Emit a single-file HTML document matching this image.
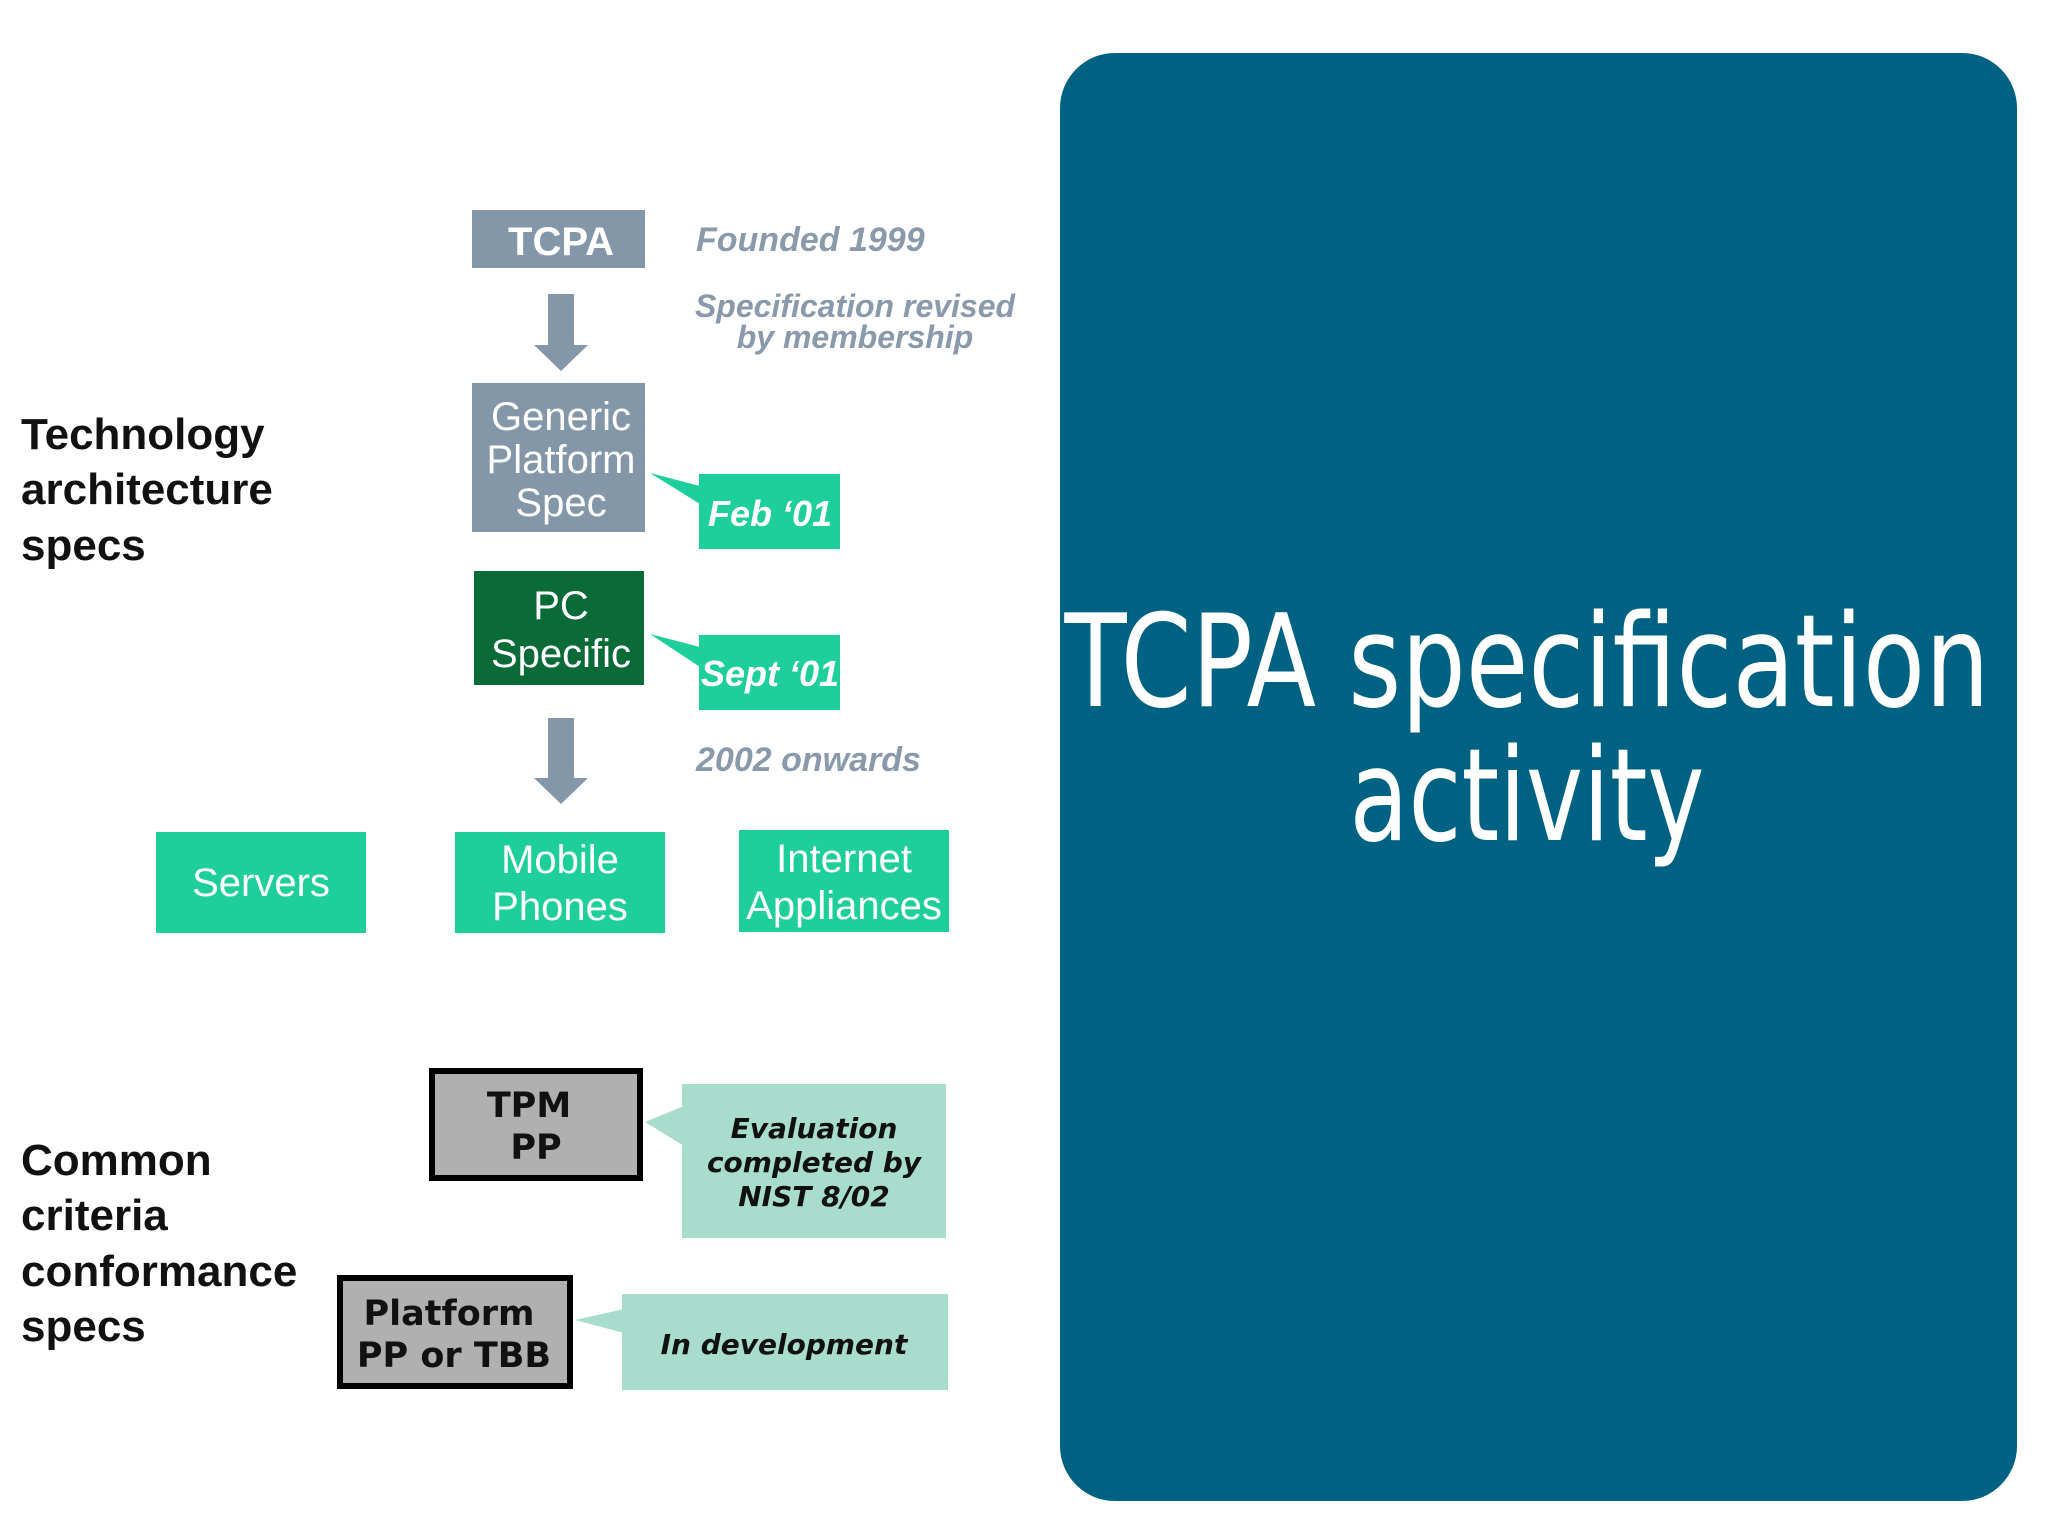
<!DOCTYPE html>
<html><head><meta charset="utf-8"><style>html,body{margin:0;padding:0;background:#fff;}svg{display:block}</style></head>
<body>
<svg width="2048" height="1536" viewBox="0 0 2048 1536" xmlns="http://www.w3.org/2000/svg" font-family="Liberation Sans, sans-serif">
<rect x="1060" y="53" width="957" height="1448" rx="55" fill="#006283"/>
<text x="1527" y="706" font-size="128" fill="#fff" text-anchor="middle" textLength="925" lengthAdjust="spacingAndGlyphs" font-family="DejaVu Sans, sans-serif">TCPA specification</text>
<text x="1527" y="840" font-size="128" fill="#fff" text-anchor="middle" textLength="355" lengthAdjust="spacingAndGlyphs" font-family="DejaVu Sans, sans-serif">activity</text>

<g font-weight="bold" font-size="44" fill="#111">
<text x="21" y="449">Technology</text>
<text x="21" y="504">architecture</text>
<text x="21" y="560">specs</text>
<text x="21" y="1175">Common</text>
<text x="21" y="1230">criteria</text>
<text x="21" y="1286">conformance</text>
<text x="21" y="1341">specs</text>
</g>

<rect x="472" y="210" width="173" height="58" fill="#8497a8"/>
<text x="561" y="255" font-size="40" font-weight="bold" fill="#fff" text-anchor="middle">TCPA</text>
<g font-style="italic" font-weight="bold" fill="#8a9aab" font-size="34">
<text x="696" y="251">Founded 1999</text>
<text x="855" y="317" text-anchor="middle" font-size="32">Specification revised</text>
<text x="855" y="348" text-anchor="middle" font-size="32">by membership</text>
<text x="696" y="771">2002 onwards</text>
</g>
<polygon points="548,294 574,294 574,345 588,345 561,371 534,345 548,345" fill="#8497a8"/>
<polygon points="548,718 574,718 574,778 588,778 561,804 534,778 548,778" fill="#8497a8"/>

<rect x="472" y="383" width="173" height="149" fill="#8497a8"/>
<g font-size="40" fill="#fff" text-anchor="middle">
<text x="561" y="430">Generic</text>
<text x="561" y="473">Platform</text>
<text x="561" y="516">Spec</text>
</g>
<rect x="474" y="571" width="170" height="114" fill="#0a6b38"/>
<g font-size="40" fill="#fff" text-anchor="middle">
<text x="561" y="619">PC</text>
<text x="561" y="667">Specific</text>
</g>

<rect x="699" y="474" width="141" height="75" fill="#1ecf9b"/>
<polygon points="650,473 700,486 700,504" fill="#1ecf9b"/>
<text x="770" y="526" font-size="36" font-weight="bold" font-style="italic" fill="#fff" text-anchor="middle">Feb ‘01</text>
<rect x="699" y="635" width="141" height="75" fill="#1ecf9b"/>
<polygon points="650,634 700,647 700,667" fill="#1ecf9b"/>
<text x="770" y="686" font-size="36" font-weight="bold" font-style="italic" fill="#fff" text-anchor="middle">Sept ‘01</text>

<rect x="156" y="832" width="210" height="101" fill="#1ecf9b"/>
<rect x="455" y="832" width="210" height="101" fill="#1ecf9b"/>
<rect x="739" y="830" width="210" height="102" fill="#1ecf9b"/>
<g font-size="40" fill="#fff" text-anchor="middle">
<text x="261" y="896">Servers</text>
<text x="560" y="873">Mobile</text>
<text x="560" y="920">Phones</text>
<text x="844" y="872">Internet</text>
<text x="844" y="919">Appliances</text>
</g>

<rect x="432" y="1071" width="208" height="107" fill="#b0b0b0" stroke="#000" stroke-width="6"/>
<rect x="340" y="1278" width="230" height="108" fill="#b0b0b0" stroke="#000" stroke-width="6"/>
<g font-family="DejaVu Sans, sans-serif" font-weight="bold" font-size="35" fill="#111" text-anchor="middle">
<text x="529" y="1117">TPM</text>
<text x="536" y="1159">PP</text>
<text x="449" y="1325">Platform</text>
<text x="454" y="1367">PP or TBB</text>
</g>

<rect x="682" y="1084" width="264" height="154" fill="#a8dccc"/>
<polygon points="645,1122 684,1106 684,1146" fill="#a8dccc"/>
<rect x="622" y="1294" width="326" height="96" fill="#a8dccc"/>
<polygon points="575,1320 624,1309 624,1333" fill="#a8dccc"/>
<g font-family="DejaVu Sans, sans-serif" font-weight="bold" font-style="italic" font-size="28" fill="#111" text-anchor="middle">
<text x="814" y="1138">Evaluation</text>
<text x="814" y="1172">completed by</text>
<text x="814" y="1206">NIST 8/02</text>
<text x="784" y="1354">In development</text>
</g>
</svg>
</body></html>
